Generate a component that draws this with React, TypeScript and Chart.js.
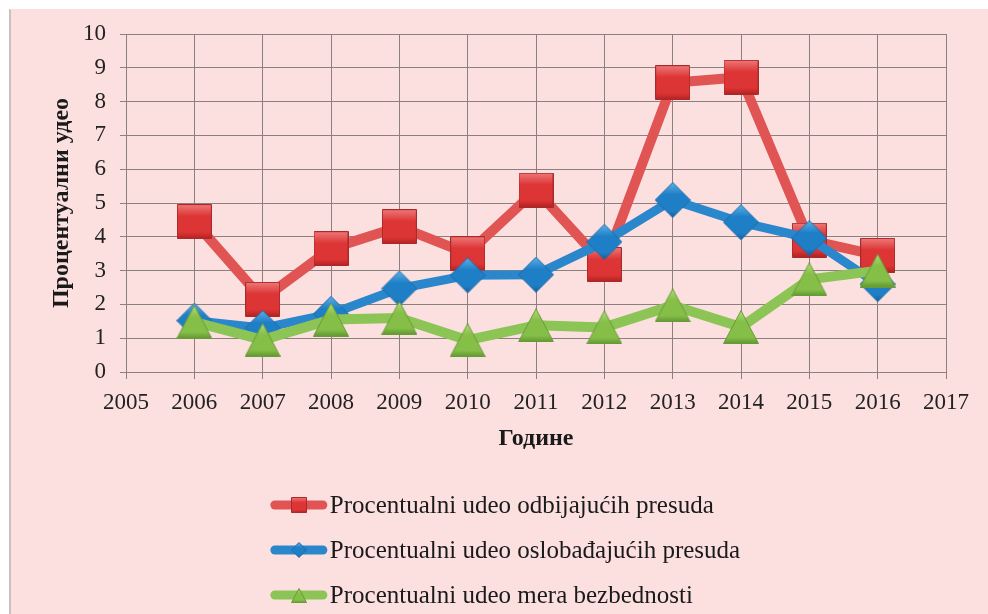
import React, { useEffect, useRef } from "react";
import { Chart, registerables } from "chart.js";

Chart.register(...registerables);

// ---- data ----
const years = [2006, 2007, 2008, 2009, 2010, 2011, 2012, 2013, 2014, 2015, 2016];
const odbijajucih = [4.45, 2.15, 3.65, 4.3, 3.5, 5.38, 3.18, 8.56, 8.72, 3.9, 3.45];
const oslobadjajucih = [1.52, 1.3, 1.72, 2.47, 2.86, 2.88, 3.85, 5.09, 4.43, 3.96, 2.6];
const mereBezbednosti = [1.48, 0.95, 1.55, 1.6, 0.94, 1.38, 1.32, 1.97, 1.33, 2.74, 3.0];
const seriesNames = [
  "Procentualni udeo odbijajućih presuda",
  "Procentualni udeo oslobađajućih presuda",
  "Procentualni udeo mera bezbednosti",
];
const xMin = 2005;
const xMax = 2017;
const yMin = 0;
const yMax = 10;
const yTitle = "Процентуални удео";
const xTitle = "Године";

type Shape = "square" | "diamond" | "triangle";

function makeMarker(shape: Shape, w: number, h: number, light: string, mid: string, dark: string, edge: string) {
  const c = document.createElement("canvas");
  c.width = w;
  c.height = h;
  const g = c.getContext("2d")!;
  const grad = g.createLinearGradient(0, 0, 0, h);
  grad.addColorStop(0, light);
  grad.addColorStop(0.35, mid);
  grad.addColorStop(0.8, mid);
  grad.addColorStop(1, dark);
  g.beginPath();
  if (shape === "square") {
    g.rect(0.5, 0.5, w - 1, h - 1);
  } else if (shape === "diamond") {
    g.moveTo(w / 2, 0.5);
    g.lineTo(w - 0.5, h / 2);
    g.lineTo(w / 2, h - 0.5);
    g.lineTo(0.5, h / 2);
    g.closePath();
  } else {
    g.moveTo(w / 2, 0.5);
    g.lineTo(w - 0.5, h - 0.5);
    g.lineTo(0.5, h - 0.5);
    g.closePath();
  }
  g.fillStyle = grad;
  g.fill();
  g.strokeStyle = edge;
  g.lineWidth = 1;
  g.stroke();
  return c;
}

const lineColors = ["#e05454", "#2b87cc", "#8cc455"];

export default function App() {
  const ref = useRef<HTMLCanvasElement | null>(null);

  useEffect(() => {
    if (!ref.current) return;
    const mk = (scale: number) => [
      makeMarker("square", Math.round(35 * scale), Math.round(35 * scale), "#f07a7a", "#dd3535", "#b02020", "#a82a2a"),
      makeMarker("diamond", Math.round(36 * scale), Math.round(36 * scale), "#5fb2ea", "#1f7fc6", "#135c96", "#1a6aa8"),
      makeMarker("triangle", Math.round(36 * scale), Math.round(34 * scale), "#b2df7c", "#86bf48", "#5e9430", "#6a9a3a"),
    ];
    const markers = mk(1);
    const legendMarkers = mk(0.45);

    const toPts = (arr: number[]) => years.map((x, i) => ({ x, y: arr[i] }));
    const seriesData = [odbijajucih, oslobadjajucih, mereBezbednosti];

    const legendPlugin = {
      id: "customLegend",
      afterDraw(chart: any) {
        const ctx = chart.ctx as CanvasRenderingContext2D;
        ctx.save();
        ctx.font = '25px "Liberation Serif"';
        const widths = seriesNames.map((n) => ctx.measureText(n).width);
        const symW = 58;
        const gap = 2;
        const total = symW + gap + Math.max(...widths);
        const x0 = (chart.width - total) / 2 + 6;
        const y0 = chart.chartArea.bottom + 133;
        seriesNames.forEach((name, i) => {
          const y = y0 + i * 45;
          ctx.strokeStyle = lineColors[i];
          ctx.lineWidth = 9;
          ctx.lineCap = "round";
          ctx.beginPath();
          ctx.moveTo(x0 + 5, y);
          ctx.lineTo(x0 + symW - 5, y);
          ctx.stroke();
          const img = legendMarkers[i];
          ctx.drawImage(img, Math.round(x0 + symW / 2 - img.width / 2), Math.round(y - img.height / 2));
          ctx.fillStyle = "#1a1a1a";
          ctx.textBaseline = "middle";
          ctx.textAlign = "left";
          ctx.fillText(name, x0 + symW + gap, y + 1);
        });
        ctx.restore();
      },
    };

    const gridColor = "#8c7f7f";
    const tickFont = { family: '"Liberation Serif"', size: 23 };
    const titleFont = { family: '"Liberation Serif"', size: 24, weight: "bold" as const };

    const chart = new Chart(ref.current, {
      type: "line",
      data: {
        datasets: seriesNames.map((name, i) => ({
          label: name,
          data: toPts(seriesData[i]),
          borderColor: lineColors[i],
          backgroundColor: lineColors[i],
          borderWidth: i === 1 ? 9 : 10,
          borderJoinStyle: "round" as const,
          borderCapStyle: "round" as const,
          pointStyle: markers[i] as any,
          pointRadius: 10,
          order: 3 - i,
          tension: 0,
        })),
      },
      options: {
        animation: false,
        responsive: false,
        layout: { padding: { left: 36, right: 41, top: 24, bottom: 161 } },
        plugins: {
          legend: { display: false },
          tooltip: { enabled: false },
          title: { display: false },
        },
        scales: {
          x: {
            type: "linear",
            min: xMin,
            max: xMax,
            ticks: {
              stepSize: 1,
              font: tickFont,
              color: "#222",
              padding: 10,
              callback: (v: any) => String(v),
            },
            grid: { color: gridColor, tickLength: 7, lineWidth: 1 },
            border: { color: gridColor },
            title: { display: true, text: xTitle, font: titleFont, color: "#1a1a1a", padding: { top: 6, bottom: 0 } },
            afterFit: (s: any) => {
              s.height = 81;
            },
          },
          y: {
            min: yMin,
            max: yMax,
            ticks: { stepSize: 1, font: tickFont, color: "#222", padding: 14 },
            grid: { color: gridColor, tickLength: 6, lineWidth: 1 },
            border: { color: gridColor },
            title: { display: true, text: yTitle, font: titleFont, color: "#1a1a1a", padding: { top: 0, bottom: 4 } },
            afterFit: (s: any) => {
              s.width = 79;
              s.paddingTop = 10;
              s.paddingBottom = 10;
            },
          },
        },
      },
      plugins: [legendPlugin],
    });
    return () => chart.destroy();
  }, []);

  return (
    <div style={{ position: "fixed", left: 0, top: 0, width: 988, height: 614, background: "#ffffff", overflow: "hidden" }}>
      <div
        style={{
          position: "absolute",
          left: 9,
          top: 9,
          width: 979,
          height: 605,
          background: "#fce0e0",
          borderLeft: "2px solid #cdbfbf",
          borderTop: "1px solid #f3e3e3",
          boxSizing: "border-box",
        }}
      >
        <canvas ref={ref} width={976} height={604} style={{ display: "block" }} />
      </div>
    </div>
  );
}
